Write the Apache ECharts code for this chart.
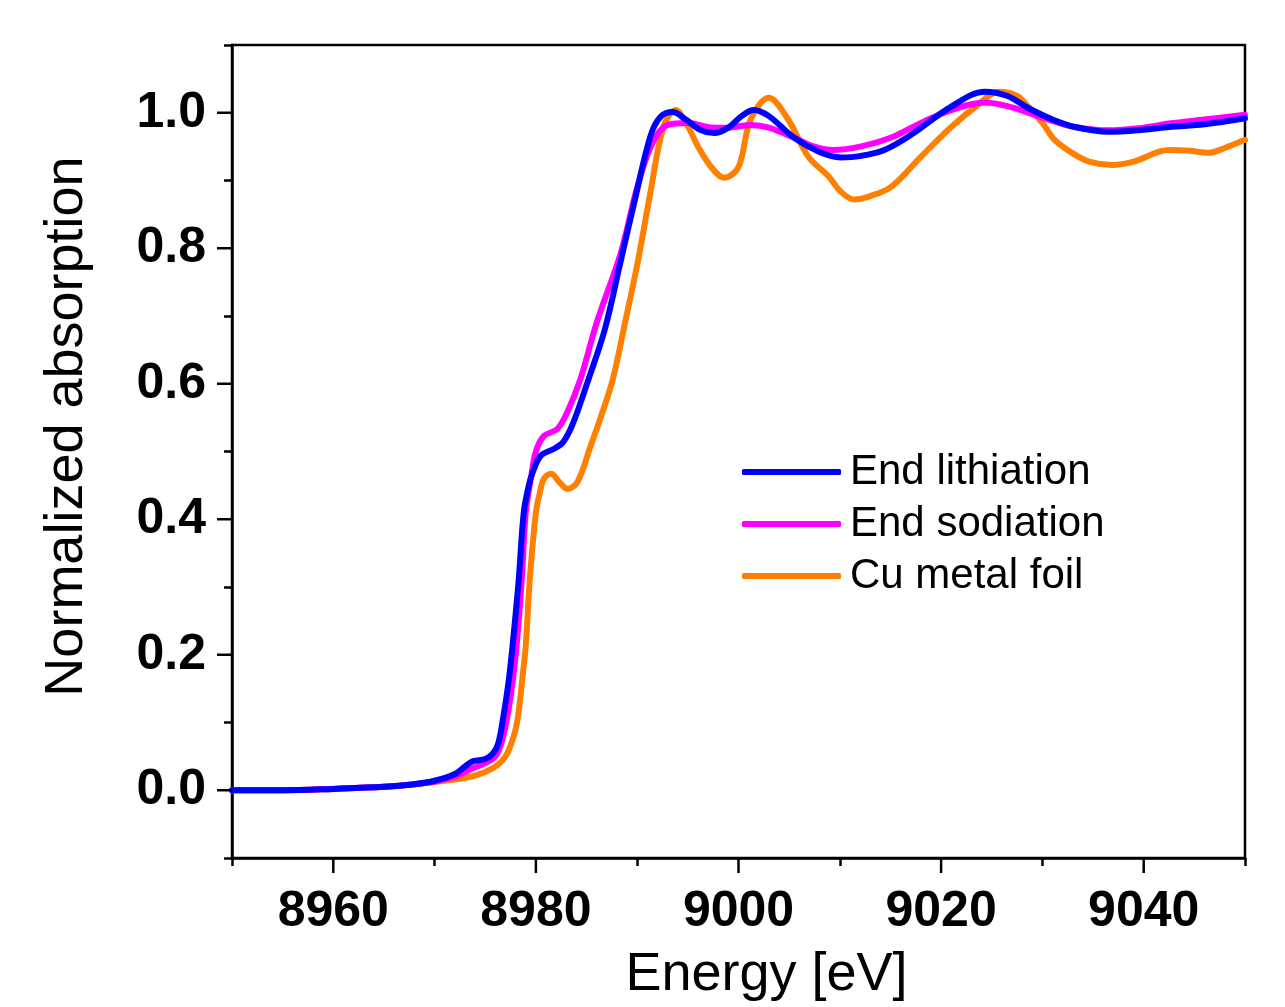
<!DOCTYPE html>
<html>
<head>
<meta charset="utf-8">
<script src="https://cdn.jsdelivr.net/npm/echarts@6/dist/echarts.min.js"></script>
<style>
html,body{margin:0;padding:0;background:#fff;}
#chart{width:1285px;height:1007px;}
</style>
</head>
<body>
<div id="chart"></div>
<script>
const xMajorTicks = [8960, 8980, 9000, 9020, 9040];
const xMinorTicks = [8950, 8970, 8990, 9010, 9030, 9050];
const yMajorTicks = [0.0, 0.2, 0.4, 0.6, 0.8, 1.0];
const yMinorTicks = [-0.1, 0.1, 0.3, 0.5, 0.7, 0.9, 1.1];
const xRange = [8950, 9050];
const yRange = [-0.1, 1.1];
const seriesNames = ['End lithiation', 'End sodiation', 'Cu metal foil'];

const lithiation = [[8950,0.0],[8955,0.0],[8960,0.002],[8965,0.005],[8968,0.009],[8970,0.014],[8972,0.024],[8973,0.035],[8973.8,0.043],[8975,0.046],[8975.8,0.055],[8976.3,0.07],[8976.8,0.11],[8977.3,0.16],[8977.7,0.214],[8978.3,0.31],[8978.8,0.41],[8979.3,0.45],[8979.7,0.47],[8980.5,0.494],[8981.8,0.504],[8982.7,0.514],[8983.7,0.543],[8985.2,0.607],[8986.8,0.68],[8988.4,0.783],[8989.7,0.867],[8991.3,0.965],[8992.3,0.994],[8993.5,1.001],[8994.8,0.99],[8996.2,0.975],[8997.6,0.97],[8999,0.978],[9000.3,0.995],[9001.5,1.004],[9003,0.995],[9005.5,0.963],[9008,0.942],[9010.1,0.934],[9012,0.936],[9014.4,0.945],[9017,0.967],[9021,1.009],[9024.3,1.031],[9026.5,1.025],[9028.6,1.007],[9031,0.99],[9033.2,0.979],[9036.5,0.972],[9040,0.975],[9042.5,0.979],[9046,0.983],[9050,0.992]];

const sodiation = [[8950,0.0],[8955,0.0],[8960,0.002],[8965,0.005],[8968,0.009],[8970,0.013],[8972,0.02],[8973,0.027],[8974,0.034],[8975,0.04],[8976,0.05],[8976.6,0.07],[8977.2,0.11],[8977.7,0.16],[8978.1,0.214],[8978.6,0.31],[8979.0,0.41],[8979.5,0.46],[8980,0.5],[8980.8,0.523],[8982.1,0.533],[8983.1,0.558],[8984.4,0.607],[8986,0.69],[8988.4,0.794],[8990,0.89],[8991.5,0.955],[8993,0.982],[8995,0.985],[8997.6,0.978],[8999,0.978],[9001.2,0.982],[9003,0.978],[9005.5,0.963],[9007.5,0.95],[9009.4,0.945],[9012,0.95],[9015,0.963],[9018,0.985],[9021,1.004],[9024.3,1.015],[9027,1.008],[9028.6,1.0],[9031,0.988],[9033.2,0.979],[9036.5,0.974],[9040,0.978],[9042.5,0.984],[9046,0.99],[9050,0.997]];

const cuFoil = [[8950,0.0],[8955,0.0],[8960,0.002],[8965,0.005],[8968.6,0.01],[8971,0.014],[8973.5,0.02],[8975,0.027],[8976.2,0.037],[8977,0.05],[8977.5,0.066],[8978,0.09],[8978.3,0.116],[8978.7,0.17],[8979.0,0.214],[8979.4,0.312],[8980.0,0.41],[8980.4,0.44],[8980.8,0.46],[8981.5,0.467],[8982.3,0.455],[8983.1,0.445],[8984.1,0.455],[8985.4,0.508],[8986.5,0.555],[8987.6,0.607],[8988.8,0.69],[8990.1,0.783],[8991.3,0.882],[8992.6,0.98],[8993.8,1.004],[8995,0.98],[8996,0.95],[8997.3,0.92],[8998.6,0.904],[9000,0.92],[9001.2,0.99],[9003,1.022],[9004.9,0.99],[9006.9,0.935],[9008.9,0.906],[9010,0.885],[9011.4,0.872],[9013,0.877],[9015.1,0.891],[9018,0.935],[9021,0.979],[9023.5,1.01],[9025.7,1.031],[9027.5,1.025],[9028.6,1.009],[9030,0.985],[9031.2,0.96],[9033,0.94],[9034.6,0.928],[9036.9,0.923],[9039,0.928],[9042.5,0.945],[9044.5,0.944],[9046.4,0.941],[9048,0.948],[9050,0.96]];

const colors = ['#0000FF', '#FF00FF', '#FF8000'];
const font = "'Liberation Sans', Arial, sans-serif";

const chart = echarts.init(document.getElementById('chart'), null, {renderer: 'canvas'});
const lineW = 2.5;
const majorLen = 15;
const gridBox = {left: 232, right: 40, top: 45, bottom: 149};

function mkSeries(name, data, color, z) {
  return {
    name: name, type: 'line', data: data, xAxisIndex: 0, yAxisIndex: 0,
    symbol: 'none', smooth: 0.35, z: z,
    lineStyle: {color: color, width: 6, cap: 'round', join: 'round'},
    itemStyle: {color: color}
  };
}

function tickAxis(isX, gridIndex, ticks) {
  const r = isX ? xRange : yRange;
  return {
    type: 'value', gridIndex: gridIndex, position: isX ? 'bottom' : 'left',
    min: r[0], max: r[1],
    axisLine: {show: false, onZero: false},
    axisTick: {show: true, customValues: ticks.slice(), length: 8, lineStyle: {color: '#000', width: lineW}},
    axisLabel: {show: false},
    splitLine: {show: false}
  };
}

chart.setOption({
  animation: false,
  backgroundColor: '#fff',
  grid: [
    Object.assign({show: true, borderColor: '#000', borderWidth: lineW, backgroundColor: 'transparent'}, gridBox),
    Object.assign({show: false}, gridBox)
  ],
  legend: {
    data: seriesNames,
    orient: 'vertical',
    left: 742, top: 451, padding: 0,
    itemWidth: 99, itemHeight: 6, itemGap: 10, itemTextGap: 12,
    icon: 'roundRect',
    textStyle: {fontFamily: font, fontSize: 42, color: '#000', padding: [0, 0, 0, 4]}
  },
  xAxis: [{
    type: 'value', gridIndex: 0, min: xRange[0], max: xRange[1],
    name: 'Energy [eV]', nameLocation: 'middle', nameGap: 90,
    nameTextStyle: {fontFamily: font, fontSize: 54, color: '#000', padding: [0, 0, 0, 56]},
    axisLine: {show: true, onZero: false, lineStyle: {color: '#000', width: lineW}},
    axisTick: {show: false},
    axisLabel: {customValues: xMajorTicks.slice(), margin: 29, fontFamily: font, fontSize: 50, fontWeight: 'bold', color: '#000',
      formatter: v => String(v)},
    splitLine: {show: false}
  }, tickAxis(true, 1, xMinorTicks)],
  yAxis: [{
    type: 'value', gridIndex: 0, min: yRange[0], max: yRange[1],
    name: 'Normalized absorption', nameLocation: 'middle', nameGap: 138,
    nameTextStyle: {fontFamily: font, fontSize: 54, color: '#000', padding: [0, 0, 0, 50]},
    axisLine: {show: true, onZero: false, lineStyle: {color: '#000', width: lineW}},
    axisTick: {show: false},
    axisLabel: {customValues: yMajorTicks.slice(), margin: 26, fontFamily: font, fontSize: 50, fontWeight: 'bold', color: '#000',
      formatter: v => v.toFixed(1)},
    splitLine: {show: false}
  }, tickAxis(false, 1, yMinorTicks)],
  series: [
    mkSeries(seriesNames[2], cuFoil, colors[2], 3),
    mkSeries(seriesNames[1], sodiation, colors[1], 4),
    mkSeries(seriesNames[0], lithiation, colors[0], 5)
  ]
});

// major ticks: positions obtained from the axes' own scales via convertToPixel
const tickEls = [];
const yBottom = chart.convertToPixel({yAxisIndex: 0}, yRange[0]);
const xLeft = chart.convertToPixel({xAxisIndex: 0}, xRange[0]);
xMajorTicks.forEach(v => {
  const px = chart.convertToPixel({xAxisIndex: 0}, v);
  tickEls.push({type: 'line', z: 100, silent: true,
    shape: {x1: px, y1: yBottom, x2: px, y2: yBottom + majorLen},
    style: {stroke: '#000', lineWidth: lineW}});
});
yMajorTicks.forEach(v => {
  const py = chart.convertToPixel({yAxisIndex: 0}, v);
  tickEls.push({type: 'line', z: 100, silent: true,
    shape: {x1: xLeft - majorLen, y1: py, x2: xLeft, y2: py},
    style: {stroke: '#000', lineWidth: lineW}});
});
chart.setOption({graphic: {elements: tickEls}});
</script>
</body>
</html>
